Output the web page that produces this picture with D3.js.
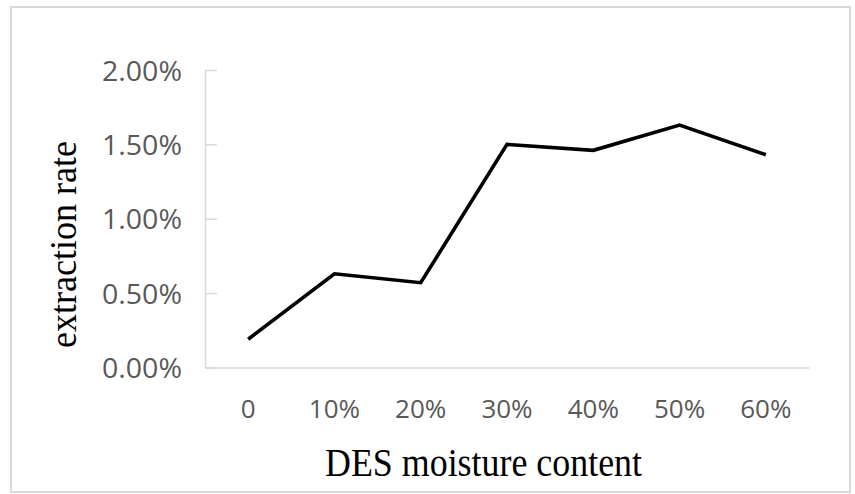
<!DOCTYPE html>
<html>
<head>
<meta charset="utf-8">
<script src="https://cdn.jsdelivr.net/npm/d3@7"></script>
<style>
  html, body { margin: 0; padding: 0; background: #fff; }
  svg { display: block; }
</style>
</head>
<body>
<svg id="chart" width="855" height="494"></svg>
<script>
// Extraction rate by DES moisture content
const categories = ["0", "10%", "20%", "30%", "40%", "50%", "60%"];
const extractionRate = [0.0019, 0.0063, 0.0057, 0.0150, 0.0146, 0.0163, 0.0143];
const yTicks = [0, 0.005, 0.01, 0.015, 0.02];

const svg = d3.select("#chart");
const plot = { left: 205, right: 809, top: 70, bottom: 367.5 };

// outer frame
svg.append("rect")
  .attr("x", 11).attr("y", 7)
  .attr("width", 839).attr("height", 485)
  .attr("fill", "#fff")
  .attr("stroke", "#d9d9d9")
  .attr("stroke-width", 2);

const x = d3.scaleBand()
  .domain(categories)
  .range([plot.left, plot.right]);

const y = d3.scaleLinear()
  .domain([0, 0.02])
  .range([plot.bottom, plot.top]);

// y axis: gray line with short inward ticks
const yAxis = svg.append("g")
  .attr("transform", `translate(${plot.left},0)`)
  .call(d3.axisLeft(y)
    .tickValues(yTicks)
    .tickSize(-12)
    .tickSizeOuter(0)
    .tickPadding(23)
    .tickFormat(d3.format(".2%")));
yAxis.select(".domain").attr("stroke", "#d9d9d9").attr("stroke-width", 1.5);
yAxis.selectAll(".tick line").attr("stroke", "#d9d9d9").attr("stroke-width", 1.5);
yAxis.selectAll(".tick text")
  .attr("fill", "#595959")
  .attr("font-family", "'Open Sans', sans-serif")
  .attr("font-size", 28)
  .attr("textLength", 80)
  .attr("lengthAdjust", "spacingAndGlyphs")
  .attr("dy", "0.36em");

// x axis: gray baseline, category labels below
const xAxis = svg.append("g")
  .attr("transform", `translate(0,${plot.bottom})`)
  .call(d3.axisBottom(x).tickSize(0).tickSizeOuter(0).tickPadding(32));
xAxis.select(".domain").attr("stroke", "#d9d9d9").attr("stroke-width", 1.5);
xAxis.selectAll(".tick text")
  .attr("fill", "#595959")
  .attr("font-family", "'Open Sans', sans-serif")
  .attr("font-size", 26)
  .attr("dy", "0.71em");

// data line
const line = d3.line()
  .x((d, i) => x(categories[i]) + x.bandwidth() / 2)
  .y(d => y(d));

svg.append("path")
  .datum(extractionRate)
  .attr("fill", "none")
  .attr("stroke", "#000")
  .attr("stroke-width", 3.6)
  .attr("stroke-linejoin", "miter")
  .attr("d", line);

// axis titles
svg.append("text")
  .attr("x", 483.5).attr("y", 476)
  .attr("text-anchor", "middle")
  .attr("font-family", "'Liberation Serif', 'Times New Roman', serif")
  .attr("font-size", 41)
  .attr("fill", "#000")
  .attr("textLength", 317)
  .attr("lengthAdjust", "spacingAndGlyphs")
  .text("DES moisture content");

svg.append("text")
  .attr("transform", "translate(76,244.5) rotate(-90)")
  .attr("text-anchor", "middle")
  .attr("font-family", "'Liberation Serif', 'Times New Roman', serif")
  .attr("font-size", 38)
  .attr("fill", "#000")
  .attr("textLength", 207)
  .attr("lengthAdjust", "spacingAndGlyphs")
  .text("extraction rate");
</script>
</body>
</html>
